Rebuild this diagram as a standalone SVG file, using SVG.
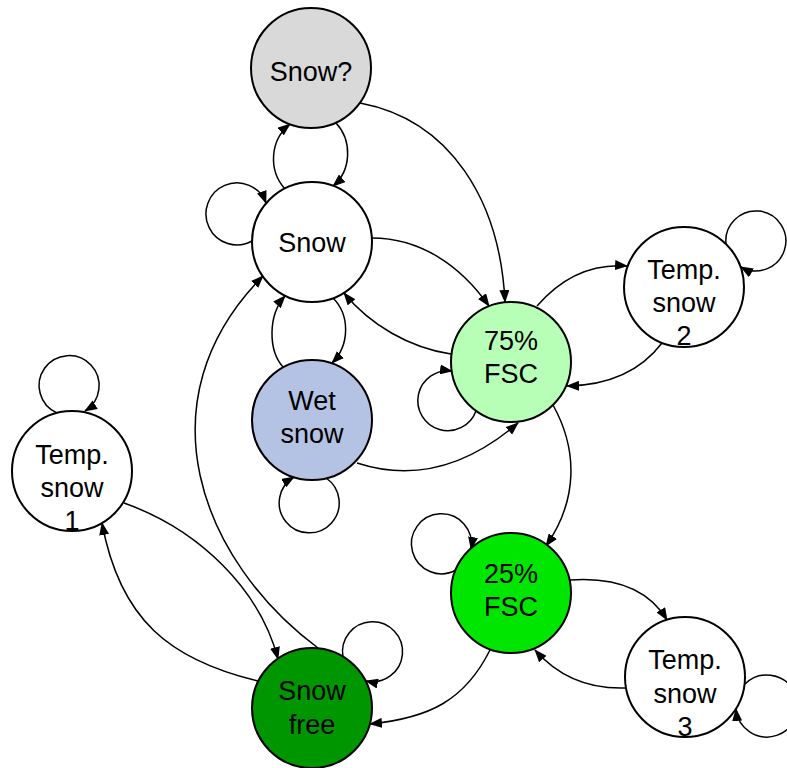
<svg xmlns="http://www.w3.org/2000/svg" width="787" height="768" viewBox="0 0 787 768">
<defs>
<marker id="ah" markerUnits="userSpaceOnUse" markerWidth="13" markerHeight="10" refX="12" refY="5" orient="auto">
<path d="M0,0 L13,5 L0,10 z" fill="#000"/>
</marker>
<style>
.node circle{stroke:#000;stroke-width:2}
.node text{font-family:"Liberation Sans",Arial,sans-serif;font-size:27px;fill:#000;text-anchor:middle}
.edges path{fill:none;stroke:#000;stroke-width:1.5;marker-end:url(#ah)}
</style>
</defs>
<rect width="787" height="768" fill="#fff"/>
<g class="edges" id="connectors">
<path d="M285,189 C268,170 270,140 290,124"/>
<path d="M336,123 C352,140 352,170 333,186"/>
<path d="M252,241 A31,31 0 1 1 266,203"/>
<path d="M360,103 C450,120 500,200 505,302"/>
<path d="M372,238 C420,238 460,265 489,306"/>
<path d="M451,354 C410,348 370,325 344,293"/>
<path d="M333,298 C350,315 350,345 332,363"/>
<path d="M283,367 C268,350 268,315 285,296"/>
<path d="M318,648 C200,560 140,400 263,276"/>
<path d="M326,478 A30,30 0 1 1 294,477"/>
<path d="M357,463 Q440,490 518,423"/>
<path d="M476,411 A30,30 0 1 1 452,371"/>
<path d="M537,306 Q575,262 627,266"/>
<path d="M662,343 Q630,385 567,386"/>
<path d="M726,244 A30,30 0 1 1 741,267"/>
<path d="M553,405 C578,450 578,500 546,546"/>
<path d="M456,570 A30,30 0 1 1 471,549"/>
<path d="M570,580 Q640,575 667,620"/>
<path d="M626,688 Q570,690 535,650"/>
<path d="M745,684 A31,31 0 1 1 736,709"/>
<path d="M490,650 C465,700 430,718 370,724"/>
<path d="M343,657 A30,30 0 1 1 366,681"/>
<path d="M57,413 A30,30 0 1 1 85,411"/>
<path d="M124,503 C200,530 260,590 278,659"/>
<path d="M258,681 C170,660 120,620 102,523"/>
</g>
<g class="node" id="snowq"><circle cx="311" cy="68" r="60" fill="#d9d9d9"/><text x="311" y="81">Snow?</text></g>
<g class="node" id="snow"><circle cx="312" cy="242" r="60" fill="#fff"/><text x="312" y="252">Snow</text></g>
<g class="node" id="fsc75"><circle cx="511" cy="362" r="60" fill="#b7ffb7"/><text x="511" y="350">75%</text><text x="511" y="383">FSC</text></g>
<g class="node" id="temp2"><circle cx="684" cy="287" r="60" fill="#fff"/><text x="684" y="279">Temp.</text><text x="684" y="312">snow</text><text x="684" y="345">2</text></g>
<g class="node" id="wet"><circle cx="312" cy="420" r="60" fill="#b4c3e4"/><text x="312" y="410">Wet</text><text x="312" y="443">snow</text></g>
<g class="node" id="temp1"><circle cx="72" cy="471" r="60" fill="#fff"/><text x="72" y="464">Temp.</text><text x="72" y="497">snow</text><text x="72" y="530">1</text></g>
<g class="node" id="fsc25"><circle cx="511" cy="593" r="60" fill="#00e600"/><text x="511" y="583">25%</text><text x="511" y="616">FSC</text></g>
<g class="node" id="temp3"><circle cx="685" cy="677" r="60" fill="#fff"/><text x="685" y="669">Temp.</text><text x="685" y="703">snow</text><text x="685" y="736">3</text></g>
<g class="node" id="free"><circle cx="312" cy="708" r="60" fill="#009600"/><text x="312" y="700">Snow</text><text x="312" y="734">free</text></g>
</svg>
